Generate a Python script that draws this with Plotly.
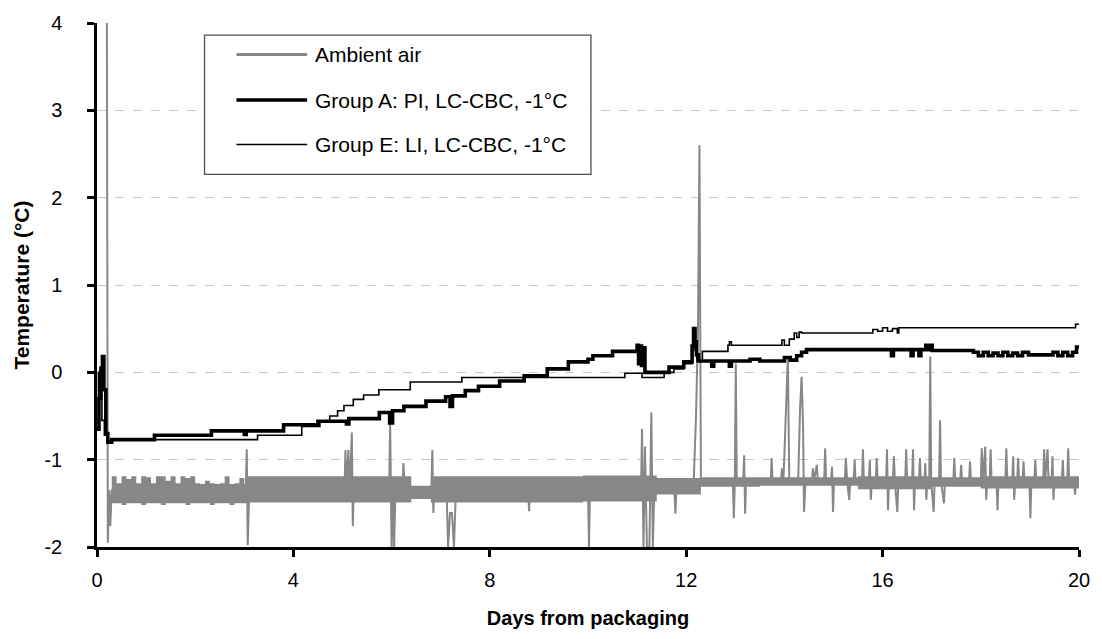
import plotly.graph_objects as go

# ---- Temperature logs (days from packaging, °C) ----

# Ambient air: main trace with its excursions
amb_day = [0.17, 0.20, 0.22, 0.25, 0.27, 0.30,
           3.03, 3.05, 3.07, 3.10,
           5.04, 5.06, 5.08, 5.12, 5.15, 5.19, 5.21, 5.23,
           5.95, 5.97, 6.00, 6.03, 6.05, 6.08,
           6.22, 6.24, 6.27,
           6.81, 6.83, 6.85, 6.87,
           7.12, 7.15, 7.19, 7.23, 7.27, 7.31,
           8.78, 8.80, 8.82,
           10.00, 10.02, 10.04,
           11.08, 11.10, 11.13, 11.16, 11.20, 11.25, 11.29, 11.32, 11.35,
           11.76, 11.78, 11.80,
           12.15, 12.20, 12.24, 12.27, 12.30,
           12.95, 12.97, 12.99, 13.01, 13.03,
           13.16, 13.18, 13.20, 13.22,
           13.72, 13.74, 13.76,
           13.93, 13.95, 13.98, 14.03, 14.07, 14.10,
           14.28, 14.32, 14.35, 14.38, 14.40, 14.43,
           14.56, 14.58, 14.60, 14.66, 14.68,
           14.81, 14.83, 14.85,
           14.95, 14.97, 14.99, 15.01,
           15.23, 15.25, 15.28, 15.32, 15.34,
           15.41, 15.43, 15.45,
           15.58, 15.60, 15.62,
           15.72, 15.74, 15.76, 15.78,
           15.86, 15.88, 15.90,
           16.07, 16.09, 16.11, 16.13,
           16.21, 16.23, 16.25, 16.30, 16.32,
           16.46, 16.48, 16.50,
           16.60, 16.62, 16.64, 16.66,
           16.74, 16.76, 16.78,
           16.85, 16.87, 16.89, 16.91,
           16.95, 16.97, 16.99, 17.04, 17.06,
           17.15, 17.17, 17.19, 17.25, 17.27,
           17.44, 17.46, 17.48,
           17.58, 17.60, 17.62,
           17.76, 17.78, 17.80,
           18.00, 18.02, 18.05, 18.09, 18.11, 18.13,
           18.18, 18.20, 18.22,
           18.32, 18.34, 18.36,
           18.50, 18.52, 18.54,
           18.64, 18.66, 18.68, 18.70,
           18.74, 18.76, 18.78,
           18.85, 18.87, 18.89,
           18.99, 19.01, 19.03,
           19.09, 19.11, 19.13,
           19.27, 19.29, 19.31, 19.36, 19.38,
           19.44, 19.46, 19.48, 19.50,
           19.65, 19.67, 19.69,
           19.76, 19.78, 19.80,
           19.90, 19.92, 19.94,
           20.00]
amb_temp = [6.00, 4.50, -1.95, -1.35, -1.76, -1.35,
            -1.35, -0.88, -1.98, -1.35,
            -1.35, -0.89, -1.35, -0.89, -1.35, -0.69, -1.76, -1.35,
            -1.35, -0.58, -2.00, -1.35, -2.00, -1.35,
            -1.35, -1.04, -1.35,
            -1.35, -0.89, -1.61, -1.35,
            -1.35, -2.00, -1.61, -1.61, -2.00, -1.35,
            -1.35, -1.59, -1.35,
            -1.35, -2.00, -1.35,
            -1.35, -0.65, -2.00, -0.85, -2.00, -2.00, -0.46, -2.00, -1.35,
            -1.35, -1.62, -1.35,
            -1.30, -0.50, 0.50, 2.60, -1.25,
            -1.25, -1.67, -1.25, 0.10, -1.25,
            -1.25, -0.95, -1.62, -1.25,
            -1.25, -0.98, -1.25,
            -1.25, -1.10, -1.25, -0.40, 0.18, -1.25,
            -1.25, -0.40, -0.05, -0.60, -1.60, -1.25,
            -1.25, -1.10, -1.25, -1.06, -1.25,
            -1.25, -0.87, -1.25,
            -1.25, -1.08, -1.60, -1.25,
            -1.25, -0.98, -1.25, -1.46, -1.25,
            -1.25, -1.00, -1.25,
            -1.25, -0.88, -1.25,
            -1.25, -1.00, -1.46, -1.25,
            -1.25, -0.98, -1.25,
            -1.25, -0.88, -1.58, -1.25,
            -1.25, -0.96, -1.25, -1.60, -1.25,
            -1.25, -0.88, -1.25,
            -1.25, -0.88, -1.58, -1.25,
            -1.25, -0.98, -1.25,
            -1.25, -1.04, -1.46, -1.25,
            -1.25, 0.18, -1.25, -1.60, -1.25,
            -1.25, -0.55, -1.25, -1.50, -1.25,
            -1.25, -0.98, -1.25,
            -1.25, -1.06, -1.25,
            -1.25, -1.02, -1.25,
            -1.25, -0.87, -1.25, -0.85, -1.46, -1.25,
            -1.25, -0.88, -1.25,
            -1.25, -1.58, -1.25,
            -1.25, -0.87, -1.25,
            -1.25, -0.96, -1.46, -1.25,
            -1.25, -0.98, -1.25,
            -1.25, -1.02, -1.25,
            -1.25, -1.67, -1.25,
            -1.25, -1.00, -1.25,
            -1.25, -0.88, -1.25, -0.88, -1.25,
            -1.25, -0.96, -1.46, -1.25,
            -1.25, -1.00, -1.25,
            -1.25, -0.87, -1.25,
            -1.25, -1.40, -1.25,
            -1.25]

# Ambient air: envelope of the rapid on/off cycling between readings
band_day = [0.30, 0.40, 0.50, 0.60, 0.70, 0.80, 0.90, 1.00, 1.10, 1.20,
            1.30, 1.40, 1.50, 1.60, 1.70, 1.80, 1.90, 2.00, 2.10, 2.20,
            2.30, 2.40, 2.50, 2.60, 2.70, 2.80, 2.90, 3.00,
            3.05, 6.40, 6.80, 9.90, 11.40, 12.30, 13.50, 15.50, 17.00,
            18.00, 20.00]
band_hi = [-1.19, -1.27, -1.19, -1.22, -1.19, -1.27, -1.19, -1.20, -1.27, -1.19,
           -1.19, -1.24, -1.19, -1.27, -1.19, -1.21, -1.19, -1.27, -1.28, -1.24,
           -1.27, -1.28, -1.27, -1.19, -1.28, -1.27, -1.21, -1.28,
           -1.19, -1.30, -1.19, -1.18, -1.21, -1.20, -1.20, -1.19, -1.20,
           -1.19, -1.20]
band_lo = [-1.50, -1.50, -1.52, -1.50, -1.50, -1.50, -1.52, -1.50, -1.50, -1.50,
           -1.52, -1.50, -1.50, -1.50, -1.50, -1.52, -1.50, -1.50, -1.50, -1.50,
           -1.52, -1.50, -1.50, -1.50, -1.52, -1.50, -1.50, -1.50,
           -1.49, -1.45, -1.49, -1.48, -1.40, -1.31, -1.30, -1.34, -1.31,
           -1.33, -1.31]

# Group A: PI, LC-CBC, -1°C
gA_day = [0.00, 0.04, 0.08, 0.11, 0.14, 0.18, 0.22, 0.30,
          1.17, 2.33, 3.00, 3.04, 3.80, 4.50, 5.08, 5.13, 5.75, 5.96, 6.02,
          6.25, 6.70, 7.10, 7.19, 7.24, 7.50, 7.77, 8.20, 8.70, 9.17, 9.60,
          10.00, 10.10, 10.50, 11.00, 11.03, 11.06, 11.09, 11.12, 11.16,
          11.65, 11.95, 12.12, 12.15, 12.18, 12.21, 12.25, 12.52, 12.56,
          12.88, 12.92, 13.30, 13.50, 14.00, 14.12, 14.25, 14.35, 14.45,
          16.18, 16.22, 16.58, 16.62, 16.74, 16.78, 16.88, 16.91, 16.98,
          17.01, 17.85, 17.95, 18.05, 18.15, 18.25, 18.35, 18.45, 18.55,
          18.65, 18.75, 18.85, 18.97, 19.47, 19.57, 19.67, 19.77, 19.87,
          19.95, 20.00]
gA_temp = [-0.65, -0.30, 0.05, 0.18, -0.20, -0.70, -0.80, -0.77,
           -0.72, -0.67, -0.71, -0.67, -0.60, -0.56, -0.59, -0.53, -0.46, -0.58, -0.44,
           -0.39, -0.33, -0.28, -0.39, -0.27, -0.21, -0.16, -0.10, -0.04, 0.04, 0.12,
           0.15, 0.19, 0.24, 0.31, 0.10, 0.30, 0.08, 0.28, 0.00,
           0.06, 0.12, 0.30, 0.50, 0.35, 0.20, 0.13, 0.07, 0.13,
           0.07, 0.13, 0.15, 0.13, 0.17, 0.14, 0.19, 0.23, 0.26,
           0.19, 0.26, 0.19, 0.26, 0.19, 0.26, 0.31, 0.26, 0.31,
           0.25, 0.23, 0.19, 0.23, 0.19, 0.22, 0.19, 0.23, 0.19,
           0.22, 0.19, 0.23, 0.20, 0.23, 0.19, 0.23, 0.19, 0.23,
           0.29, 0.29]

# Group E: LI, LC-CBC, -1°C
gE_day = [0.00, 0.03, 0.06, 0.10, 0.15, 0.20, 0.30,
          3.27, 4.17, 4.54, 4.74, 4.90, 5.03, 5.22, 5.43, 5.74, 6.38, 7.43,
          10.75, 11.10, 11.55, 11.75, 11.95, 12.12, 12.15, 12.18, 12.22,
          12.33, 12.85, 12.88, 12.92, 13.95, 14.00, 14.10, 14.20, 14.25,
          14.30, 14.35, 15.80, 15.90, 16.00, 16.10, 16.20, 16.30, 16.33,
          19.93, 20.00]
gE_temp = [-0.30, 0.00, -0.25, -0.55, -0.72, -0.78, -0.77,
           -0.72, -0.62, -0.56, -0.50, -0.44, -0.38, -0.31, -0.26, -0.20, -0.11, -0.06,
           -0.01, -0.06, 0.00, 0.04, 0.10, 0.30, 0.47, 0.25, 0.13,
           0.24, 0.31, 0.35, 0.31, 0.37, 0.31, 0.38, 0.45, 0.40,
           0.46, 0.45, 0.49, 0.47, 0.51, 0.47, 0.50, 0.45, 0.51,
           0.55, 0.55]

y_ticks = [-2, -1, 0, 1, 2, 3, 4]
y_tick_text = ["-2", "-1", "0", "1", "2", "3", "4"]
x_ticks = [0, 4, 8, 12, 16, 20]

series_names = ["Ambient air", "Group A: PI, LC-CBC, -1°C", "Group E: LI, LC-CBC, -1°C"]

GRAY = "#878787"
FONT = "Liberation Sans, Arial, sans-serif"

fig = go.Figure()

# cycling band of the ambient air logger
fig.add_trace(go.Scatter(x=band_day, y=band_lo, mode="lines", line=dict(width=0, shape="hv", color=GRAY),
                         showlegend=False, hoverinfo="skip"))
fig.add_trace(go.Scatter(x=band_day, y=band_hi, mode="lines", line=dict(width=0, shape="hv", color=GRAY),
                         fill="tonexty", fillcolor=GRAY, showlegend=False, hoverinfo="skip"))
fig.add_trace(go.Scatter(x=amb_day, y=amb_temp, mode="lines", name=series_names[0],
                         line=dict(color=GRAY, width=2), showlegend=False))
fig.add_trace(go.Scatter(x=gE_day, y=gE_temp, mode="lines", name=series_names[2],
                         line=dict(color="black", width=1.6, shape="hv"), showlegend=False))
fig.add_trace(go.Scatter(x=gA_day, y=gA_temp, mode="lines", name=series_names[1],
                         line=dict(color="black", width=3.6, shape="hv"), showlegend=False))

# legend box drawn in paper coordinates
box_x0, box_x1, box_y0, box_y1 = 0.1095, 0.503, 0.711, 0.977
sample_x0, sample_x1, text_x = 0.142, 0.214, 0.2195
row_y = [0.940, 0.853, 0.768]
sample_style = [dict(color=GRAY, width=3), dict(color="black", width=3.6), dict(color="black", width=1.6)]

shapes = [dict(type="rect", xref="paper", yref="paper", x0=box_x0, x1=box_x1, y0=box_y0, y1=box_y1,
               line=dict(color="#505050", width=1.3), fillcolor="white", layer="above")]
annotations = []
for name, yy, st in zip(series_names, row_y, sample_style):
    shapes.append(dict(type="line", xref="paper", yref="paper", x0=sample_x0, x1=sample_x1, y0=yy, y1=yy,
                       line=st, layer="above"))
    annotations.append(dict(xref="paper", yref="paper", x=text_x, y=yy, text=name, showarrow=False,
                            xanchor="left", yanchor="middle", font=dict(family=FONT, size=21, color="black")))

fig.update_layout(
    width=1102, height=639,
    margin=dict(l=97, r=19, t=17, b=92),
    paper_bgcolor="white", plot_bgcolor="white",
    font=dict(family=FONT, size=20, color="black"),
    showlegend=False,
    shapes=shapes,
    annotations=annotations,
)
fig.update_xaxes(range=[0, 20], tickvals=x_ticks, showgrid=False, zeroline=False,
                 showline=True, linecolor="black", linewidth=2.5,
                 ticks="outside", ticklen=7, tickwidth=2.5, tickcolor="black",
                 ticklabelstandoff=6, tickfont=dict(size=20),
                 title=dict(text="Days from packaging", font=dict(family=FONT, size=20, weight="bold"),
                            standoff=22))
fig.update_yaxes(range=[-2, 4], tickvals=y_ticks, ticktext=y_tick_text,
                 showgrid=True, gridcolor="#c8c8c8", griddash="dash", gridwidth=1.3, zeroline=False,
                 showline=True, linecolor="black", linewidth=2.5,
                 ticks="outside", ticklen=7, tickwidth=2.5, tickcolor="black",
                 ticklabelstandoff=21, tickfont=dict(size=20),
                 title=dict(text="Temperature (°C)", font=dict(family=FONT, size=21, weight="bold"),
                            standoff=10))

fig.write_html("out.html")
